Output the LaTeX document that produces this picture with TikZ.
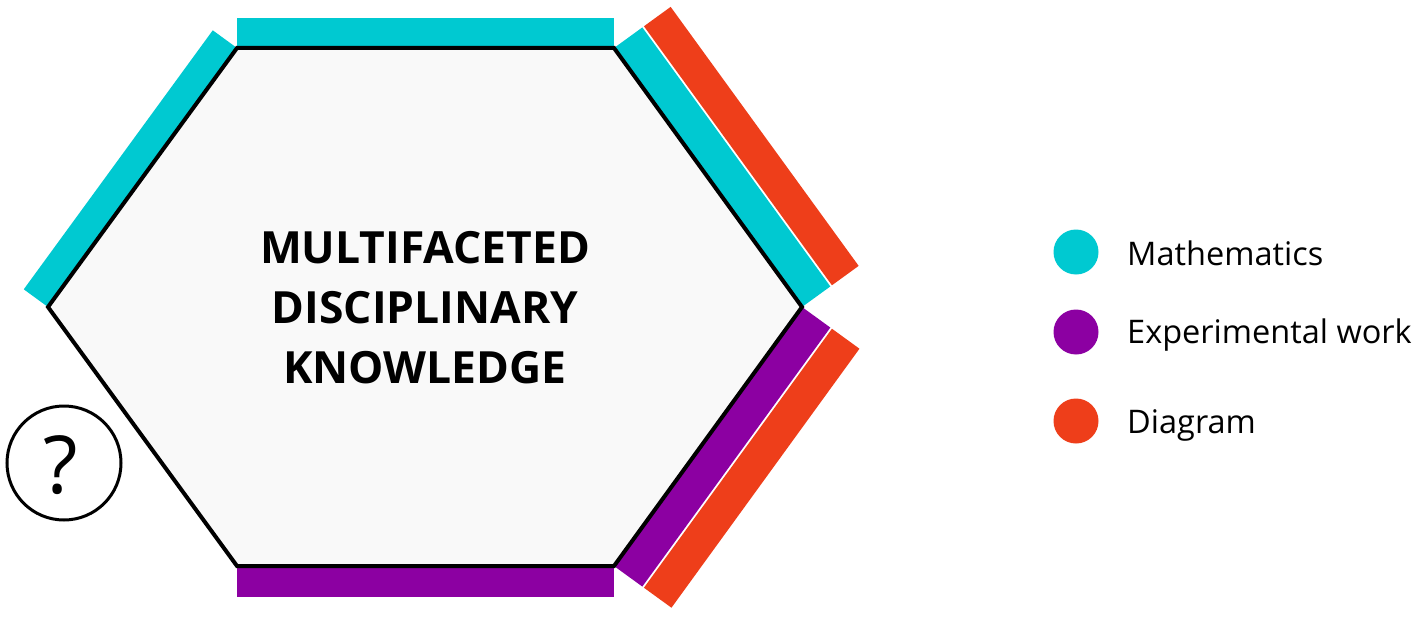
\documentclass[tikz,border=0pt]{standalone}
\usepackage{fontspec}
\setmainfont{Open Sans}
\usetikzlibrary{calc}
\definecolor{mcyan}{RGB}{0,201,209}
\definecolor{mpurple}{RGB}{140,0,162}
\definecolor{mred}{RGB}{238,62,26}
\definecolor{hexfill}{RGB}{249,249,249}
\tikzset{
  hexline/.style={draw=black,line width=4pt,fill=hexfill,line join=miter},
  legdot/.style={circle,inner sep=0pt,minimum size=45pt},
  legtext/.style={anchor=base west,inner sep=0pt,font=\fontsize{32.5}{40}\selectfont},
}
\begin{document}
\begin{tikzpicture}[x=1pt,y=-1pt]
\useasboundingbox (0,0) rectangle (1418,623);
\fill[white] (0,0) rectangle (1418,623);
% hexagon vertices
\coordinate (L) at (48,307);
\coordinate (TL) at (237,48);
\coordinate (TR) at (614,48);
\coordinate (R) at (802,307);
\coordinate (BR) at (614,566);
\coordinate (BL) at (237,566);
% bars: outward offset band between d1 and d2
\newcommand{\edgebar}[5]{%
  \fill[#1] ($(#2)!#4pt!90:(#3)$) -- ($(#3)!#4pt!-90:(#2)$) -- ($(#3)!#5pt!-90:(#2)$) -- ($(#2)!#5pt!90:(#3)$) -- cycle;}
\edgebar{mcyan}{L}{TL}{0}{30}
\edgebar{mcyan}{TL}{TR}{0}{30}
\edgebar{mcyan}{TR}{R}{0}{35}
\edgebar{mred}{TR}{R}{37}{70}
\edgebar{mpurple}{R}{BR}{0}{35}
\edgebar{mred}{R}{BR}{37}{71}
\edgebar{mpurple}{BR}{BL}{0}{31}
\path[hexline] (L) -- (TL) -- (TR) -- (R) -- (BR) -- (BL) -- cycle;
\node[align=center,inner sep=0pt,font=\fontsize{44.4}{60}\bfseries\selectfont] (title) at (425,308) {MULTIFACETED\\DISCIPLINARY\\KNOWLEDGE};
% question circle
\node[circle,draw=black,line width=3pt,minimum size=114pt,inner sep=0pt] (q) at (64,463) {};
\node[anchor=base,inner sep=0pt,font=\fontsize{80}{90}\selectfont] (qm) at (61,493) {?};
% legend
\node[legdot,fill=mcyan] (d1) at (1076,252) {};
\node[legdot,fill=mpurple] (d2) at (1076,332) {};
\node[legdot,fill=mred] (d3) at (1076,421) {};
\node[legtext] (t1) at (1127,265.5) {Mathematics};
\node[legtext] (t2) at (1127,343.5) {Experimental work};
\node[legtext] (t3) at (1127,433) {Diagram};
\end{tikzpicture}
\end{document}
